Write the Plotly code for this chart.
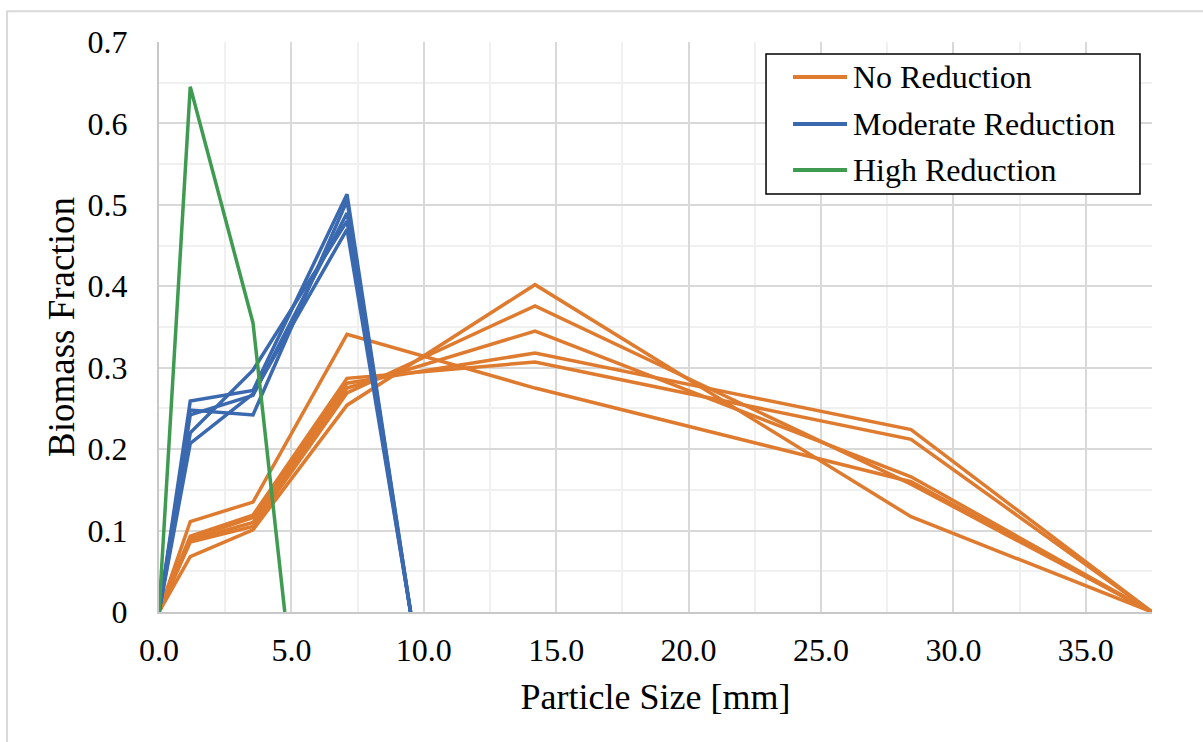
import plotly.graph_objects as go

# ---- data ----
x_no = [0, 1.18, 3.55, 7.1, 14.2, 28.4, 37.5]
no_reduction = [
    [0, 0.111, 0.135, 0.341, 0.275, 0.160, 0],
    [0, 0.068, 0.101, 0.254, 0.402, 0.117, 0],
    [0, 0.086, 0.105, 0.269, 0.376, 0.157, 0],
    [0, 0.088, 0.110, 0.275, 0.345, 0.166, 0],
    [0, 0.090, 0.116, 0.281, 0.318, 0.224, 0],
    [0, 0.093, 0.119, 0.287, 0.307, 0.212, 0],
]

x_mod = [0, 1.18, 3.55, 7.1, 9.5]
moderate_reduction = [
    [0, 0.259, 0.272, 0.513, 0],
    [0, 0.248, 0.242, 0.505, 0],
    [0, 0.242, 0.266, 0.490, 0],
    [0, 0.220, 0.297, 0.480, 0],
    [0, 0.207, 0.268, 0.470, 0],
]

x_high = [0, 1.18, 3.55, 4.75]
high_reduction = [
    [0, 0.645, 0.355, 0],
]

x_ticks = [0, 5, 10, 15, 20, 25, 30, 35]
legend_names = ["No Reduction", "Moderate Reduction", "High Reduction"]

ORANGE = "#DE7B2F"
BLUE = "#3A69B0"
GREEN = "#3F9B52"
FONT = "Times New Roman, Liberation Serif, serif"

fig = go.Figure()

groups = [
    (legend_names[0], x_no, no_reduction, ORANGE),
    (legend_names[1], x_mod, moderate_reduction, BLUE),
    (legend_names[2], x_high, high_reduction, GREEN),
]
for name, xs, series, color in groups:
    for i, ys in enumerate(series):
        fig.add_trace(go.Scatter(
            x=xs, y=ys, mode="lines", name=name,
            legendgroup=name, showlegend=False,
            line=dict(color=color, width=3.5),
            hoverinfo="skip",
        ))

# ---- legend drawn as a boxed key (paper coordinates) ----
shapes = [
    dict(type="rect", xref="paper", yref="paper",
         x0=-0.153, x1=1.2, y0=-0.4, y1=1.054,
         line=dict(color="#D9D9D9", width=2), fillcolor="rgba(0,0,0,0)", layer="below"),
    dict(type="rect", xref="paper", yref="paper",
         x0=0.6113, x1=0.9879, y0=0.7333, y1=0.9789,
         line=dict(color="black", width=1.5), fillcolor="white", layer="above"),
]
annotations = []
leg_y = [0.9386, 0.8561, 0.7754]
for (name, _, _, color), yy in zip(groups, leg_y):
    shapes.append(dict(type="line", xref="paper", yref="paper",
                       x0=0.6385, x1=0.6929, y0=yy, y1=yy,
                       line=dict(color=color, width=4), layer="above"))
    annotations.append(dict(text=name, xref="paper", yref="paper",
                            x=0.6965, y=yy, xanchor="left", yanchor="middle",
                            showarrow=False,
                            font=dict(family=FONT, size=32, color="black")))

fig.update_layout(
    width=1203, height=742,
    margin=dict(l=159, r=51, t=42, b=130),
    paper_bgcolor="white", plot_bgcolor="white",
    font=dict(family=FONT, color="black", size=29),
    showlegend=False,
    xaxis=dict(
        range=[0, 37.5], tickmode="array", tickvals=x_ticks,
        tickformat=".1f", showgrid=True, gridcolor="#D9D9D9", gridwidth=2,
        minor=dict(dtick=2.5, tick0=0, showgrid=True, gridcolor="#F0F0F0", gridwidth=2),
        showline=True, linecolor="#C8C8C8", linewidth=2,
        zeroline=False, ticks="", ticklabelstandoff=9,
        tickfont=dict(family=FONT, size=32, color="black"),
        title=dict(text="Particle Size [mm]", font=dict(family=FONT, size=36, color="black"), standoff=16),
    ),
    yaxis=dict(
        range=[0, 0.7], dtick=0.1, tick0=0,
        showgrid=True, gridcolor="#D9D9D9", gridwidth=2,
        minor=dict(dtick=0.05, tick0=0, showgrid=True, gridcolor="#F0F0F0", gridwidth=2),
        showline=True, linecolor="#C8C8C8", linewidth=2,
        zeroline=False, ticks="", ticklabelstandoff=23,
        tickfont=dict(family=FONT, size=32, color="black"),
        title=dict(text="Biomass Fraction", font=dict(family=FONT, size=37, color="black"), standoff=2),
    ),
    shapes=shapes,
    annotations=annotations,
)

fig.write_html("out.html")
